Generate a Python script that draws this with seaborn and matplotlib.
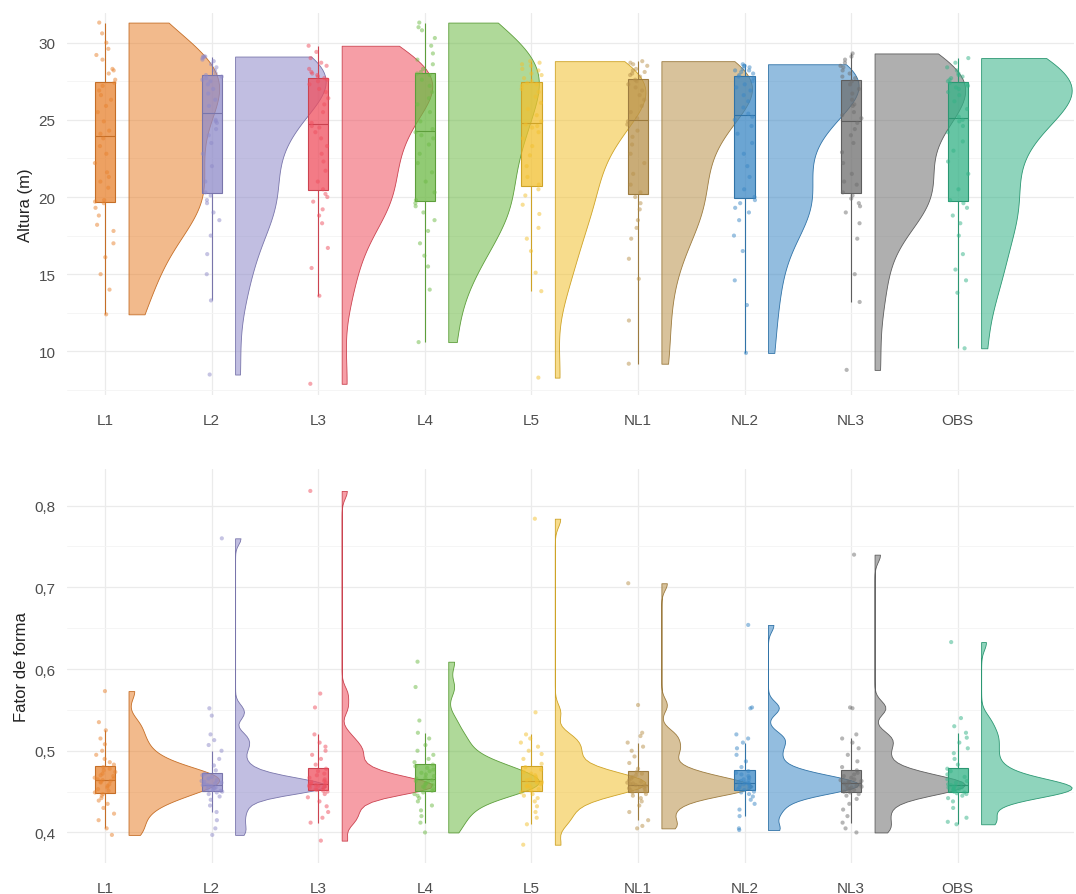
import numpy as np
import pandas as pd
import matplotlib
matplotlib.use("Agg")
import matplotlib.pyplot as plt
import seaborn as sns
from matplotlib.colors import to_rgba, to_rgb
from matplotlib.ticker import MultipleLocator, FuncFormatter

# ===============================
# Dados
# ===============================
grupos = ["L1", "L2", "L3", "L4", "L5", "NL1", "NL2", "NL3", "OBS"]
cores = ["#E8822E", "#8E8AC9", "#EF4F5E", "#6DBA45", "#F2C02E",
         "#B8914A", "#3A87C5", "#6E6E6E", "#33B286"]

# Altura (m)
alt_L1 = [12.4, 14.0, 15.0, 16.1, 17.0, 17.8, 18.2, 18.8, 19.3, 19.6, 19.7, 19.8, 20.6, 21.0,
          21.3, 21.6, 22.2, 22.8, 23.3, 23.8, 24.1, 24.3, 24.9, 25.5, 25.9, 26.3, 26.6, 26.9,
          27.2, 27.4, 27.6, 28.0, 28.2, 28.3, 28.9, 29.2, 29.6, 30.0, 30.6, 31.3]
alt_L2 = [8.5, 13.3, 15.0, 16.3, 17.5, 18.5, 19.0, 19.6, 19.8, 20.1, 20.3, 21.0, 22.0, 22.8,
          23.5, 24.0, 24.4, 24.8, 24.9, 25.0, 25.9, 26.3, 26.7, 27.0, 27.3, 27.5, 27.6, 27.7,
          27.8, 27.9, 28.0, 28.2, 28.4, 28.6, 28.8, 28.9, 29.0, 29.1, 29.1, 29.1]
alt_L3 = [7.9, 13.6, 15.4, 16.7, 18.3, 18.8, 19.2, 19.7, 20.0, 20.2, 20.5, 21.0, 21.7, 22.3,
          22.8, 23.3, 23.8, 24.2, 24.5, 24.6, 24.8, 25.5, 26.0, 26.4, 26.8, 27.0, 27.3, 27.5,
          27.6, 27.7, 27.8, 27.9, 28.0, 28.1, 28.3, 28.5, 28.7, 29.0, 29.4, 29.8]
alt_L4 = [10.6, 14.0, 15.5, 16.2, 17.0, 17.8, 18.5, 19.0, 19.4, 19.6, 19.8, 20.3, 21.0, 21.6,
          22.2, 22.8, 23.4, 23.8, 24.0, 24.2, 24.4, 24.9, 25.5, 26.0, 26.4, 26.8, 27.2, 27.6,
          27.9, 28.0, 28.1, 28.3, 28.6, 28.9, 29.3, 29.8, 30.3, 30.8, 31.0, 31.3]
alt_L5 = [8.3, 13.9, 15.1, 16.5, 17.3, 18.0, 18.9, 19.5, 20.1, 20.5, 20.8, 21.3, 22.0, 22.7,
          23.3, 23.8, 24.2, 24.5, 24.6, 24.7, 24.9, 25.3, 25.7, 26.1, 26.5, 26.8, 27.0, 27.2,
          27.3, 27.4, 27.5, 27.7, 27.9, 28.0, 28.2, 28.3, 28.5, 28.6, 28.7, 28.8]
alt_NL1 = [9.2, 12.0, 14.7, 16.0, 17.3, 18.0, 18.5, 19.2, 19.6, 20.0, 20.3, 20.8, 21.5, 22.2,
           22.8, 23.4, 23.9, 24.3, 24.7, 24.9, 25.1, 25.5, 25.9, 26.3, 26.6, 26.9, 27.1, 27.3,
           27.5, 27.6, 27.8, 27.9, 28.0, 28.1, 28.2, 28.3, 28.5, 28.6, 28.7, 28.8]
alt_NL2 = [9.9, 13.0, 14.6, 16.5, 17.5, 18.5, 19.0, 19.3, 19.6, 19.8, 20.0, 20.5, 21.3, 22.0,
           22.8, 23.5, 24.1, 24.6, 25.0, 25.2, 25.4, 25.8, 26.2, 26.6, 26.9, 27.1, 27.3, 27.5,
           27.7, 27.8, 27.9, 28.0, 28.1, 28.2, 28.2, 28.3, 28.4, 28.5, 28.5, 28.6]
alt_NL3 = [8.8, 13.2, 15.0, 17.3, 18.3, 19.0, 19.4, 19.6, 19.9, 20.1, 20.3, 20.8, 21.0, 21.5,
           22.2, 22.9, 23.5, 24.0, 24.4, 24.8, 25.1, 25.3, 25.5, 25.9, 26.0, 26.3, 26.7, 27.0,
           27.3, 27.5, 27.7, 27.8, 28.0, 28.2, 28.4, 28.5, 28.7, 28.9, 29.1, 29.3]
alt_OBS = [10.2, 13.8, 14.6, 15.3, 16.3, 17.5, 18.3, 18.8, 19.3, 19.6, 19.8, 20.5, 21.5, 22.3,
           23.0, 23.6, 24.2, 24.6, 24.9, 25.0, 25.2, 25.7, 26.2, 26.6, 26.8, 27.0, 27.1, 27.2,
           27.3, 27.4, 27.5, 27.6, 27.7, 27.8, 27.9, 28.0, 28.2, 28.4, 28.7, 29.0]

# Fator de forma
ff_L1 = [0.397, 0.405, 0.415, 0.423, 0.430, 0.435, 0.439, 0.442, 0.445, 0.447, 0.449, 0.451,
         0.453, 0.455, 0.457, 0.459, 0.461, 0.462, 0.463, 0.464, 0.465, 0.466, 0.467, 0.469,
         0.470, 0.472, 0.474, 0.476, 0.478, 0.480, 0.483, 0.486, 0.490, 0.495, 0.500, 0.508,
         0.515, 0.525, 0.535, 0.573]
ff_L2 = [0.397, 0.405, 0.415, 0.425, 0.433, 0.440, 0.444, 0.447, 0.449, 0.450, 0.451, 0.452,
         0.453, 0.454, 0.455, 0.456, 0.457, 0.457, 0.458, 0.458, 0.459, 0.460, 0.461, 0.462,
         0.463, 0.464, 0.466, 0.468, 0.470, 0.472, 0.476, 0.482, 0.490, 0.500, 0.507, 0.513,
         0.520, 0.543, 0.552, 0.760]
ff_L3 = [0.390, 0.412, 0.418, 0.425, 0.432, 0.438, 0.443, 0.447, 0.450, 0.451, 0.452, 0.453,
         0.454, 0.455, 0.456, 0.457, 0.457, 0.458, 0.458, 0.459, 0.460, 0.461, 0.462, 0.463,
         0.465, 0.467, 0.470, 0.472, 0.475, 0.478, 0.483, 0.490, 0.495, 0.500, 0.505, 0.510,
         0.520, 0.553, 0.570, 0.818]
ff_L4 = [0.400, 0.412, 0.420, 0.427, 0.433, 0.438, 0.442, 0.445, 0.447, 0.449, 0.451, 0.453,
         0.455, 0.456, 0.458, 0.459, 0.460, 0.462, 0.463, 0.464, 0.466, 0.467, 0.469, 0.471,
         0.473, 0.475, 0.477, 0.479, 0.481, 0.483, 0.486, 0.490, 0.495, 0.500, 0.507, 0.515,
         0.522, 0.537, 0.578, 0.609]
ff_L5 = [0.385, 0.410, 0.418, 0.425, 0.432, 0.438, 0.442, 0.445, 0.447, 0.449, 0.451, 0.453,
         0.455, 0.456, 0.457, 0.458, 0.459, 0.460, 0.461, 0.462, 0.463, 0.464, 0.465, 0.466,
         0.468, 0.470, 0.472, 0.474, 0.477, 0.480, 0.484, 0.490, 0.496, 0.500, 0.505, 0.510,
         0.515, 0.520, 0.547, 0.784]
ff_NL1 = [0.405, 0.408, 0.415, 0.425, 0.433, 0.438, 0.442, 0.445, 0.447, 0.449, 0.450, 0.451,
          0.452, 0.453, 0.454, 0.455, 0.456, 0.457, 0.458, 0.458, 0.459, 0.460, 0.461, 0.462,
          0.464, 0.466, 0.468, 0.470, 0.472, 0.474, 0.478, 0.485, 0.493, 0.500, 0.505, 0.510,
          0.518, 0.522, 0.556, 0.705]
ff_NL2 = [0.403, 0.405, 0.420, 0.428, 0.435, 0.440, 0.444, 0.447, 0.449, 0.450, 0.452, 0.453,
          0.454, 0.455, 0.456, 0.457, 0.458, 0.459, 0.460, 0.460, 0.461, 0.462, 0.463, 0.464,
          0.465, 0.467, 0.469, 0.471, 0.473, 0.475, 0.480, 0.487, 0.495, 0.503, 0.510, 0.515,
          0.520, 0.552, 0.553, 0.654]
ff_NL3 = [0.400, 0.405, 0.412, 0.420, 0.428, 0.435, 0.441, 0.445, 0.447, 0.449, 0.450, 0.452,
          0.453, 0.454, 0.455, 0.456, 0.457, 0.458, 0.459, 0.460, 0.461, 0.462, 0.463, 0.464,
          0.465, 0.467, 0.469, 0.471, 0.473, 0.476, 0.480, 0.487, 0.495, 0.503, 0.510, 0.515,
          0.520, 0.552, 0.553, 0.740]
ff_OBS = [0.410, 0.413, 0.418, 0.430, 0.438, 0.442, 0.445, 0.447, 0.448, 0.449, 0.450, 0.451,
          0.452, 0.453, 0.453, 0.454, 0.455, 0.455, 0.456, 0.457, 0.458, 0.459, 0.460, 0.461,
          0.463, 0.465, 0.468, 0.471, 0.475, 0.478, 0.483, 0.490, 0.497, 0.503, 0.510, 0.516,
          0.522, 0.530, 0.540, 0.633]

altura = [alt_L1, alt_L2, alt_L3, alt_L4, alt_L5, alt_NL1, alt_NL2, alt_NL3, alt_OBS]
fator = [ff_L1, ff_L2, ff_L3, ff_L4, ff_L5, ff_NL1, ff_NL2, ff_NL3, ff_OBS]


def montar(listas, nome):
    linhas = []
    for g, vals in zip(grupos, listas):
        for v in vals:
            linhas.append((g, v))
    return pd.DataFrame(linhas, columns=["grupo", nome])


def escurecer(c, f=0.75):
    r, g, b = to_rgb(c)
    return (r * f, g * f, b * f)


def nrd0(kde):
    # largura de banda "nrd0" (regra de Silverman com min(sd, IQR/1.34))
    x = np.asarray(kde.dataset).ravel()
    sd = x.std(ddof=1)
    q75, q25 = np.percentile(x, [75, 25])
    h = 0.9 * min(sd, (q75 - q25) / 1.34) * len(x) ** -0.2
    return h / sd


pal = dict(zip(grupos, cores))


def raincloud(ax, df, col, bw_adjust):
    # violino (metade direita)
    n0 = len(ax.collections)
    sns.violinplot(data=df, x="grupo", y=col, hue="grupo", order=grupos, hue_order=grupos,
                   palette=pal, cut=0, inner=None, density_norm="area", width=1.7,
                   bw_method=nrd0, bw_adjust=bw_adjust, saturation=1,
                   linewidth=0.6, legend=False, ax=ax)
    for coll in ax.collections[n0:]:
        centro = None
        for path in coll.get_paths():
            v = path.vertices
            centro = (v[:, 0].min() + v[:, 0].max()) / 2
            v[:, 0] = np.maximum(v[:, 0], centro) + 0.22
        c = cores[int(round(centro))]
        coll.set_facecolor(to_rgba(c, 0.55))
        coll.set_edgecolor(escurecer(c, 0.85))

    # boxplot
    for g, c in zip(grupos, cores):
        n_p = len(ax.patches)
        sns.boxplot(data=df[df["grupo"] == g], x="grupo", y=col, order=grupos,
                    color=c, linecolor=escurecer(c, 0.85), width=0.19, showfliers=False,
                    showcaps=False, linewidth=0.8, saturation=1, ax=ax)
        for p in ax.patches[n_p:]:
            p.set_facecolor(to_rgba(c, 0.75))

    # pontos
    sns.stripplot(data=df, x="grupo", y=col, hue="grupo", order=grupos, hue_order=grupos,
                  palette=pal, jitter=0.1, size=3, alpha=0.5, linewidth=0,
                  legend=False, ax=ax)


# ===============================
# Figura
# ===============================
sns.set_style("white")
plt.rcParams["font.family"] = ["Liberation Sans", "DejaVu Sans"]
np.random.seed(3)

fig = plt.figure(figsize=(10.76, 8.95), dpi=100)
ax1 = fig.add_axes([0.062, 0.558, 0.936, 0.426])
ax2 = fig.add_axes([0.062, 0.035, 0.936, 0.440])

raincloud(ax1, montar(altura, "altura"), "altura", 1.0)
raincloud(ax2, montar(fator, "fator"), "fator", 1.0)

ax1.set_ylim(7.2, 31.9)
ax2.set_ylim(0.363, 0.845)
ax1.yaxis.set_major_locator(MultipleLocator(5))
ax1.yaxis.set_minor_locator(MultipleLocator(2.5))
ax2.yaxis.set_major_locator(MultipleLocator(0.1))
ax2.yaxis.set_minor_locator(MultipleLocator(0.05))
ax1.yaxis.set_major_formatter(FuncFormatter(lambda v, p: f"{v:.0f}"))
ax2.yaxis.set_major_formatter(FuncFormatter(lambda v, p: f"{v:.1f}".replace(".", ",")))

ax1.set_ylabel("Altura (m)", fontsize=12, color="#222222")
ax2.set_ylabel("Fator de forma", fontsize=12, color="#222222")

for ax in (ax1, ax2):
    ax.set_xlim(-0.36, 9.09)
    ax.set_xlabel("")
    ax.set_xticks(range(len(grupos)))
    ax.set_xticklabels(grupos)
    for s in ax.spines.values():
        s.set_visible(False)
    ax.set_axisbelow(True)
    ax.grid(True, which="major", color="#EBEBEB", linewidth=0.9)
    ax.grid(True, which="minor", axis="y", color="#F4F4F4", linewidth=0.6)
    ax.tick_params(axis="both", which="both", length=0, labelsize=11,
                   labelcolor="#4D4D4D")
    ax.tick_params(axis="x", pad=13)
    ax.tick_params(axis="y", pad=8)

fig.savefig("out.png", dpi=100)
